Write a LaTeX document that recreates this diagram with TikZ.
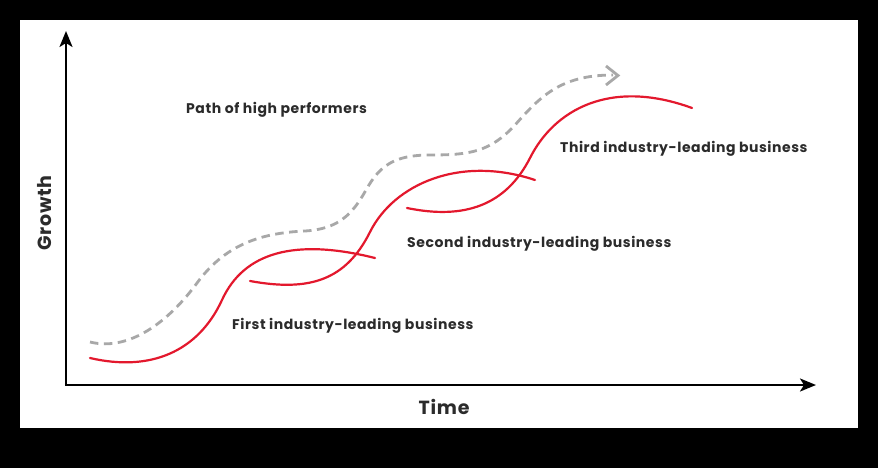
\documentclass[tikz,border=0pt]{standalone}
\usepackage{fontspec}
\setmainfont{Poppins}[LetterSpace=4]
\usetikzlibrary{arrows.meta}
\definecolor{curvered}{HTML}{E3182D}
\definecolor{dashgray}{HTML}{A8A8A8}
\definecolor{txt}{HTML}{2B2B2B}
\begin{document}
\begin{tikzpicture}[x=1pt,y=-1pt,
  axisline/.style={line width=2.4pt,black,-{Stealth[length=16pt,width=13pt,inset=4pt]}},
  redcurve/.style={line width=2.2pt,curvered,line cap=round},
  perfpath/.style={line width=2.8pt,dashgray,dash pattern=on 8.5pt off 5.5pt},
  lbl/.style={font=\fontsize{14}{16}\selectfont\bfseries,text=txt,inner sep=0pt},
  axlbl/.style={font=\fontsize{19}{21}\selectfont\bfseries,text=txt,inner sep=0pt}]
\fill[black] (0,0) rectangle (878,468);
\fill[white] (20,20) rectangle (858,428);
\useasboundingbox (0,0) rectangle (878,468);
% axes
\coordinate (o) at (66,385);
\coordinate (ytip) at (66,31);
\coordinate (xtip) at (816,385);
\draw[axisline] (o) -- (ytip);
\draw[axisline] ([xshift=-1.2pt]o) -- (xtip);
\node[axlbl] (time) at (444,407) {Time};
\node[axlbl,rotate=90] (growth) at (45,213) {Growth};
% dashed path
\draw[perfpath] (90,342) .. controls (130,352) and (170,320) .. (197,283)
  .. controls (225,245) and (260,233) .. (305,231)
  .. controls (338,229) and (352,215) .. (366,190)
  .. controls (380,165) and (395,155) .. (430,155)
  .. controls (470,155) and (490,152) .. (515,125)
  .. controls (540,97) and (560,75) .. (613,75);
\coordinate (a1) at (606,66);
\coordinate (a2) at (618,75.5);
\coordinate (a3) at (606,85);
\draw[line width=2.8pt,dashgray,line join=miter] (a1) -- (a2) -- (a3);
% red curves
\draw[redcurve] (90,358) .. controls (150,372) and (198,352) .. (222,300)
  .. controls (244,252) and (295,238) .. (375,258);
\draw[redcurve] (250,281) .. controls (310,292) and (346,280) .. (370,232)
  .. controls (394,184) and (460,155) .. (535,180);
\draw[redcurve] (407,208) .. controls (465,220) and (506,205) .. (530,158)
  .. controls (554,110) and (610,78) .. (692,108);
% labels
\node[lbl,anchor=west] (p) at (186,110) {Path of high performers};
\node[lbl,anchor=west] (t3) at (560,149) {Third industry-leading business};
\node[lbl,anchor=west] (t2) at (407,244) {Second industry-leading business};
\node[lbl,anchor=west] (t1) at (232,326) {First industry-leading business};
\end{tikzpicture}
\end{document}
